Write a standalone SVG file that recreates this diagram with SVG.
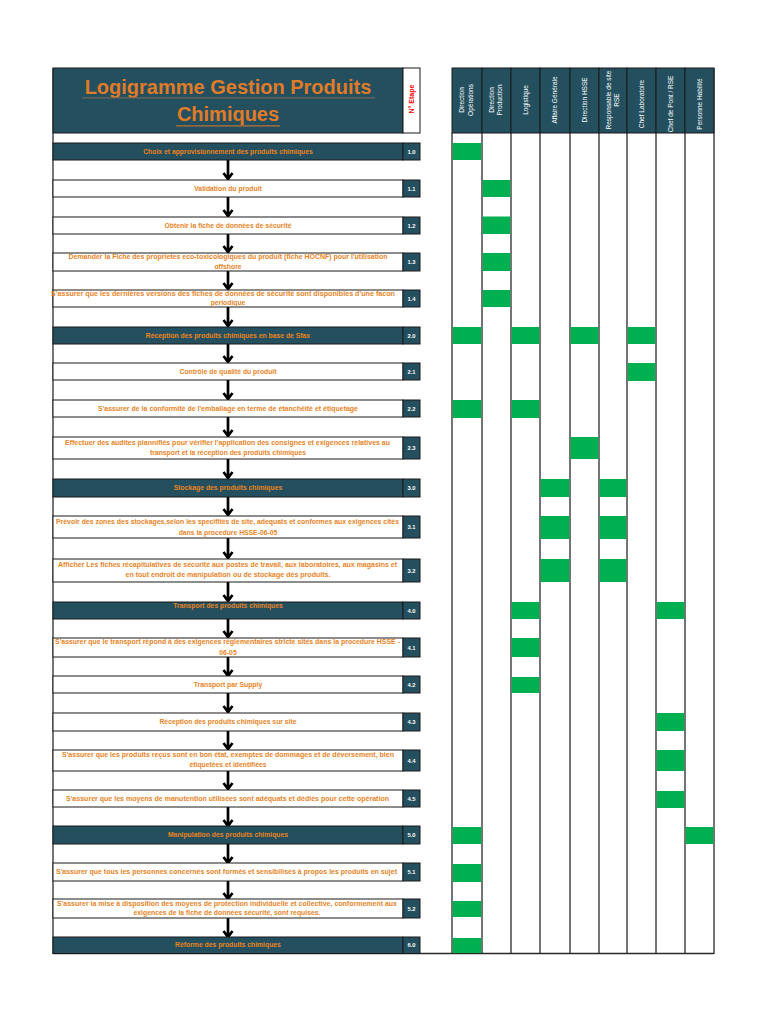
<svg xmlns="http://www.w3.org/2000/svg" width="768" height="1024" viewBox="0 0 768 1024">
<defs>
<style>
.dk{fill:#244f5e;stroke:#1a1a1a;stroke-width:1}
.wb{fill:#ffffff;stroke:#1a1a1a;stroke-width:1}
.gr{fill:#00b050}
.lane{stroke:#2a2a2a;stroke-width:1.3}
.t{font-family:"Liberation Sans",Arial,sans-serif;font-weight:bold;font-size:6.8px;fill:#e8841f;text-anchor:middle}
.n{font-family:"Liberation Sans",Arial,sans-serif;font-weight:bold;font-size:5.8px;fill:#ffffff;text-anchor:middle}
.h{font-family:"Liberation Sans",Arial,sans-serif;font-size:6.5px;fill:#ffffff;text-anchor:middle}
.ar{stroke:#000;stroke-width:2.7;fill:none}
</style>
</defs>
<rect width="768" height="1024" fill="#ffffff"/>

<!-- title -->
<g id="title">
<rect x="53" y="68" width="350" height="65" class="dk"/>
<text x="228" y="93.5" font-family="'Liberation Sans',Arial,sans-serif" font-weight="bold" font-size="20" fill="#e07b28" text-anchor="middle">Logigramme Gestion Produits</text>
<line x1="82" y1="97.8" x2="375" y2="97.8" stroke="#6f675e" stroke-width="1.2"/>
<text x="228" y="121" font-family="'Liberation Sans',Arial,sans-serif" font-weight="bold" font-size="20" fill="#e07b28" text-anchor="middle">Chimiques</text>
<line x1="176" y1="125.8" x2="280" y2="125.8" stroke="#b87333" stroke-width="1.2"/>
</g>
<g id="etape-header">
<rect x="403" y="68" width="17" height="65" class="wb"/>
<text transform="translate(413.8,99) rotate(-90)" font-family="'Liberation Sans',Arial,sans-serif" font-weight="bold" font-size="7" fill="#ff0000" text-anchor="middle">N° Etape</text>
</g>

<!-- column headers -->
<g id="col-headers">
<rect x="452" y="68" width="30" height="65" class="dk"/>
<rect x="482" y="68" width="29" height="65" class="dk"/>
<rect x="511" y="68" width="29" height="65" class="dk"/>
<rect x="540" y="68" width="30" height="65" class="dk"/>
<rect x="570" y="68" width="29" height="65" class="dk"/>
<rect x="599" y="68" width="28" height="65" class="dk"/>
<rect x="627" y="68" width="29" height="65" class="dk"/>
<rect x="656" y="68" width="29" height="65" class="dk"/>
<rect x="685" y="68" width="29" height="65" class="dk"/>
<text class="h" transform="translate(464.3,100) rotate(-90)">Direction</text>
<text class="h" transform="translate(472.8,100) rotate(-90)">Opérations</text>
<text class="h" transform="translate(493.8,100) rotate(-90)">Direction</text>
<text class="h" transform="translate(502.3,100) rotate(-90)">Production</text>
<text class="h" transform="translate(527.8,100) rotate(-90)">Logistique</text>
<text class="h" transform="translate(557.3,100) rotate(-90)">Affaire Générale</text>
<text class="h" transform="translate(586.8,100) rotate(-90)">Direction HSSE</text>
<text class="h" transform="translate(610.8,100) rotate(-90)">Responsable de site</text>
<text class="h" transform="translate(619.3,100) rotate(-90)">RSE</text>
<text class="h" transform="translate(643.8,104) rotate(-90)">Chef Laboratoire</text>
<text class="h" transform="translate(672.8,104) rotate(-90)">Chef de Pont / RSE</text>
<text class="h" transform="translate(701.8,104) rotate(-90)">Personne Habilité</text>
</g>

<!-- lanes -->
<g id="lanes">
<line x1="53" y1="68" x2="53" y2="954" class="lane"/>
<line x1="53" y1="953.5" x2="714" y2="953.5" class="lane"/>
<line x1="452" y1="133" x2="452" y2="954" class="lane"/>
<line x1="482" y1="133" x2="482" y2="954" class="lane"/>
<line x1="511" y1="133" x2="511" y2="954" class="lane"/>
<line x1="540" y1="133" x2="540" y2="954" class="lane"/>
<line x1="570" y1="133" x2="570" y2="954" class="lane"/>
<line x1="599" y1="133" x2="599" y2="954" class="lane"/>
<line x1="627" y1="133" x2="627" y2="954" class="lane"/>
<line x1="656" y1="133" x2="656" y2="954" class="lane"/>
<line x1="685" y1="133" x2="685" y2="954" class="lane"/>
<line x1="714" y1="68" x2="714" y2="954" class="lane"/>
</g>

<!-- green responsibility cells -->
<g id="assignments">
<rect class="gr" x="452.7" y="143" width="28.6" height="17"/>
<rect class="gr" x="482.7" y="180" width="27.6" height="17"/>
<rect class="gr" x="482.7" y="216.5" width="27.6" height="17.5"/>
<rect class="gr" x="482.7" y="253" width="27.6" height="18"/>
<rect class="gr" x="482.7" y="290" width="27.6" height="17"/>
<rect class="gr" x="452.7" y="327" width="28.6" height="17"/>
<rect class="gr" x="511.7" y="327" width="27.6" height="17"/>
<rect class="gr" x="570.7" y="327" width="27.6" height="17"/>
<rect class="gr" x="627.7" y="327" width="27.6" height="17"/>
<rect class="gr" x="627.7" y="363" width="27.6" height="18"/>
<rect class="gr" x="452.7" y="400" width="28.6" height="18"/>
<rect class="gr" x="511.7" y="400" width="27.6" height="18"/>
<rect class="gr" x="570.7" y="437" width="27.6" height="22"/>
<rect class="gr" x="540.7" y="479" width="28.6" height="18"/>
<rect class="gr" x="599.7" y="479" width="26.6" height="18"/>
<rect class="gr" x="540.7" y="516" width="28.6" height="23"/>
<rect class="gr" x="599.7" y="516" width="26.6" height="23"/>
<rect class="gr" x="540.7" y="559" width="28.6" height="23"/>
<rect class="gr" x="599.7" y="559" width="26.6" height="23"/>
<rect class="gr" x="511.7" y="602" width="27.6" height="17"/>
<rect class="gr" x="656.7" y="602" width="27.6" height="17"/>
<rect class="gr" x="511.7" y="638" width="27.6" height="19"/>
<rect class="gr" x="511.7" y="677" width="27.6" height="16"/>
<rect class="gr" x="656.7" y="713" width="27.6" height="18"/>
<rect class="gr" x="656.7" y="750" width="27.6" height="21"/>
<rect class="gr" x="656.7" y="791" width="27.6" height="17"/>
<rect class="gr" x="452.7" y="827" width="28.6" height="17"/>
<rect class="gr" x="685.7" y="827" width="27.6" height="17"/>
<rect class="gr" x="452.7" y="864" width="28.6" height="18"/>
<rect class="gr" x="452.7" y="901" width="28.6" height="16"/>
<rect class="gr" x="452.7" y="938" width="28.6" height="15"/>
</g>

<!-- connectors -->
<g id="connectors">
<path class="ar" d="M228,160V179M223.5,173L228,179L232.5,173"/>
<path class="ar" d="M228,197V216M223.5,210L228,216L232.5,210"/>
<path class="ar" d="M228,234V252M223.5,246L228,252L232.5,246"/>
<path class="ar" d="M228,271V289M223.5,283L228,289L232.5,283"/>
<path class="ar" d="M228,307V326M223.5,320L228,326L232.5,320"/>
<path class="ar" d="M228,344V362M223.5,356L228,362L232.5,356"/>
<path class="ar" d="M228,380V399M223.5,393L228,399L232.5,393"/>
<path class="ar" d="M228,417V436M223.5,430L228,436L232.5,430"/>
<path class="ar" d="M228,459V478M223.5,472L228,478L232.5,472"/>
<path class="ar" d="M228,497V515M223.5,509L228,515L232.5,509"/>
<path class="ar" d="M228,538V558M223.5,552L228,558L232.5,552"/>
<path class="ar" d="M228,582V601M223.5,595L228,601L232.5,595"/>
<path class="ar" d="M228,619V637M223.5,631L228,637L232.5,631"/>
<path class="ar" d="M228,657V676M223.5,670L228,676L232.5,670"/>
<path class="ar" d="M228,693V712M223.5,706L228,712L232.5,706"/>
<path class="ar" d="M228,731V749M223.5,743L228,749L232.5,743"/>
<path class="ar" d="M228,771V789M223.5,783L228,789L232.5,783"/>
<path class="ar" d="M228,807V826M223.5,820L228,826L232.5,820"/>
<path class="ar" d="M228,844V863M223.5,857L228,863L232.5,857"/>
<path class="ar" d="M228,881V899M223.5,893L228,899L232.5,893"/>
<path class="ar" d="M228,918V937M223.5,931L228,937L232.5,931"/>
</g>

<!-- steps -->
<g id="step-1-0"><rect x="53" y="143" width="350" height="17" class="dk"/><rect x="403" y="143" width="17" height="17" class="dk"/>
<text class="t" x="228" y="153.8">Choix et approvisionnement des produits chimiques</text><text class="n" x="411.5" y="153.6">1.0</text></g>

<g id="step-1-1"><rect x="53" y="180" width="350" height="17" class="wb"/><rect x="403" y="180" width="17" height="17" class="dk"/>
<text class="t" x="228" y="190.8">Validation du produit</text><text class="n" x="411.5" y="190.6">1.1</text></g>

<g id="step-1-2"><rect x="53" y="217" width="350" height="17" class="wb"/><rect x="403" y="217" width="17" height="17" class="dk"/>
<text class="t" x="228" y="227.8">Obtenir la fiche de données de sécurité</text><text class="n" x="411.5" y="227.6">1.2</text></g>

<g id="step-1-3"><rect x="53" y="253" width="350" height="18" class="wb"/><rect x="403" y="253" width="17" height="18" class="dk"/>
<text class="t" x="228" y="259" textLength="319" lengthAdjust="spacingAndGlyphs">Demander la Fiche des proprietes eco-toxicologiques du produit (fiche HOCNF) pour l'utilisation</text>
<text class="t" x="228" y="268.8">offshore</text><text class="n" x="411.5" y="264">1.3</text></g>

<g id="step-1-4"><rect x="53" y="290" width="350" height="17" class="wb"/><rect x="403" y="290" width="17" height="17" class="dk"/>
<text class="t" x="223" y="296" textLength="344" lengthAdjust="spacingAndGlyphs">S'assurer que  les dernières versions  des fiches de données de sécurité sont disponibles d'une facon</text>
<text class="t" x="228" y="305.2">periodique</text><text class="n" x="411.5" y="300.6">1.4</text></g>

<g id="step-2-0"><rect x="53" y="327" width="350" height="17" class="dk"/><rect x="403" y="327" width="17" height="17" class="dk"/>
<text class="t" x="228" y="337.6">Réception des produits chimiques en base de Sfax</text><text class="n" x="411.5" y="337.6">2.0</text></g>

<g id="step-2-1"><rect x="53" y="363" width="350" height="17" class="wb"/><rect x="403" y="363" width="17" height="17" class="dk"/>
<text class="t" x="228" y="373.8">Contrôle de qualité du produit</text><text class="n" x="411.5" y="373.6">2.1</text></g>

<g id="step-2-2"><rect x="53" y="400" width="350" height="17" class="wb"/><rect x="403" y="400" width="17" height="17" class="dk"/>
<text class="t" x="228" y="410.8" textLength="260" lengthAdjust="spacingAndGlyphs">S'assurer de la conformité de l'emballage en terme de étanchéité et étiquetage</text><text class="n" x="411.5" y="410.6">2.2</text></g>

<g id="step-2-3"><rect x="53" y="437" width="350" height="22" class="wb"/><rect x="403" y="437" width="17" height="22" class="dk"/>
<text class="t" x="227.5" y="445.3" textLength="325" lengthAdjust="spacingAndGlyphs">Effectuer des audites plannifiés pour vérifier l'application des consignes et exigences relatives au</text>
<text class="t" x="228" y="454.5">transport et la réception des produits chimiques</text><text class="n" x="411.5" y="450.1">2.3</text></g>

<g id="step-3-0"><rect x="53" y="479" width="350" height="18" class="dk"/><rect x="403" y="479" width="17" height="18" class="dk"/>
<text class="t" x="228" y="489.6">Stockage des produits chimiques</text><text class="n" x="411.5" y="489.8">3.0</text></g>

<g id="step-3-1"><rect x="53" y="516" width="350" height="22" class="wb"/><rect x="403" y="516" width="17" height="22" class="dk"/>
<text class="t" x="227.5" y="524.3" textLength="343" lengthAdjust="spacingAndGlyphs">Prévoir des zones des stockages,selon les specifités de site, adequats et conformes aux exigences cités</text>
<text class="t" x="228" y="534.5">dans la procedure HSSE-06-05</text><text class="n" x="411.5" y="529.4">3.1</text></g>

<g id="step-3-2"><rect x="53" y="559" width="350" height="23" class="wb"/><rect x="403" y="559" width="17" height="23" class="dk"/>
<text class="t" x="227.5" y="567.3" textLength="339" lengthAdjust="spacingAndGlyphs">Afficher Les fiches récapitulatives de sécurité  aux postes de travail, aux laboratoires, aux magasins et</text>
<text class="t" x="228" y="577.3" textLength="205" lengthAdjust="spacingAndGlyphs">en tout endroit de manipulation ou de stockage des produits.</text><text class="n" x="411.5" y="572.6">3.2</text></g>

<g id="step-4-0"><rect x="53" y="602" width="350" height="17" class="dk"/><rect x="403" y="602" width="17" height="17" class="dk"/>
<text class="t" x="228" y="607.8">Transport des produits chimiques</text><text class="n" x="411.5" y="612.6">4.0</text></g>

<g id="step-4-1"><rect x="53" y="638" width="350" height="19" class="wb"/><rect x="403" y="638" width="17" height="19" class="dk"/>
<text class="t" x="227.5" y="644.3" textLength="345" lengthAdjust="spacingAndGlyphs">S'assurer que le transport répond  à des exigences réglementaires stricte sités dans la procedure HSSE -</text>
<text class="t" x="228" y="654.8">06-05</text><text class="n" x="411.5" y="649.6">4.1</text></g>

<g id="step-4-2"><rect x="53" y="676" width="350" height="17" class="wb"/><rect x="403" y="676" width="17" height="17" class="dk"/>
<text class="t" x="228" y="686.6">Transport par Supply</text><text class="n" x="411.5" y="686.6">4.2</text></g>

<g id="step-4-3"><rect x="53" y="713" width="350" height="18" class="wb"/><rect x="403" y="713" width="17" height="18" class="dk"/>
<text class="t" x="228" y="723.6">Réception des produits chimiques sur site</text><text class="n" x="411.5" y="724">4.3</text></g>

<g id="step-4-4"><rect x="53" y="750" width="350" height="21" class="wb"/><rect x="403" y="750" width="17" height="21" class="dk"/>
<text class="t" x="228" y="757.3" textLength="332" lengthAdjust="spacingAndGlyphs">S'assurer que les produits reçus sont en bon état, exemptes de dommages et de déversement, bien</text>
<text class="t" x="228" y="766.6">étiquetées et identifiées</text><text class="n" x="411.5" y="762.6">4.4</text></g>

<g id="step-4-5"><rect x="53" y="790" width="350" height="17" class="wb"/><rect x="403" y="790" width="17" height="17" class="dk"/>
<text class="t" x="227.5" y="800.6" textLength="323" lengthAdjust="spacingAndGlyphs">S'assurer que les moyens de manutention utilisées sont adéquats et dédiés pour cette opération</text><text class="n" x="411.5" y="800.6">4.5</text></g>

<g id="step-5-0"><rect x="53" y="826" width="350" height="18" class="dk"/><rect x="403" y="826" width="17" height="18" class="dk"/>
<text class="t" x="228" y="836.8">Manipulation des produits chimiques</text><text class="n" x="411.5" y="837">5.0</text></g>

<g id="step-5-1"><rect x="53" y="863" width="350" height="18" class="wb"/><rect x="403" y="863" width="17" height="18" class="dk"/>
<text class="t" x="226.5" y="874" textLength="341" lengthAdjust="spacingAndGlyphs">S'assurer que tous les personnes concernés sont formés et sensibilisés à propos les produits en sujet</text><text class="n" x="411.5" y="874">5.1</text></g>

<g id="step-5-2"><rect x="53" y="899" width="350" height="19" class="wb"/><rect x="403" y="899" width="17" height="19" class="dk"/>
<text class="t" x="227" y="906.2" textLength="340" lengthAdjust="spacingAndGlyphs">S'assurer la mise à disposition des moyens de protection individuelle et collective, conformement aux</text>
<text class="t" x="227" y="915.3" textLength="187" lengthAdjust="spacingAndGlyphs">exigences de la fiche de données sécurité, sont requises.</text><text class="n" x="411.5" y="910.6">5.2</text></g>

<g id="step-6-0"><rect x="53" y="937" width="350" height="16.5" class="dk"/><rect x="403" y="937" width="17" height="16.5" class="dk"/>
<text class="t" x="228" y="947.2">Réforme des produits chimiques</text><text class="n" x="411.5" y="947.2">6.0</text></g>
</svg>
